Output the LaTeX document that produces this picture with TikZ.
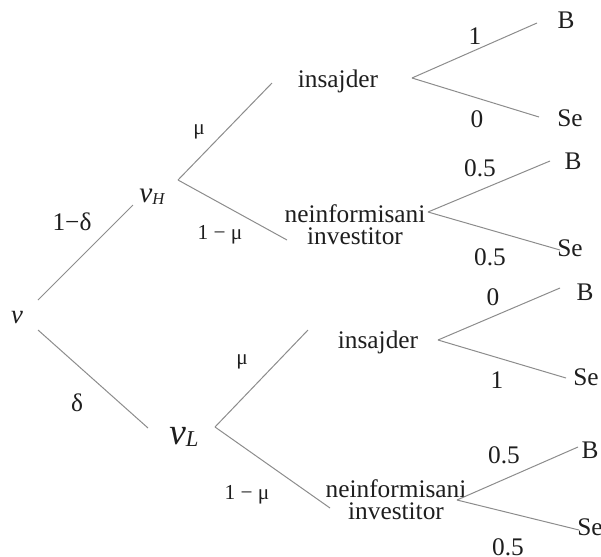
\documentclass[tikz,border=0pt]{standalone}
\usepackage{fontspec}
\setmainfont{Liberation Serif}
\definecolor{cBranch}{HTML}{8C8C8C}
\definecolor{cText}{HTML}{1E1E1E}
\newcommand{\vsub}[3]{{\itshape\fontsize{#1}{#1}\selectfont v\raisebox{-1.5pt}{\fontsize{#2}{#2}\selectfont #3}}}

\begin{document}
\begin{tikzpicture}[x=0.75pt,y=-0.75pt,
  lab/.style={inner sep=0pt,text=cText,align=center,
    font=\fontsize{19}{16.5}\selectfont},
  prob/.style={lab,font=\fontsize{16}{18}\selectfont},
  br/.style={draw=cBranch,line width=0.75pt}]

  \useasboundingbox (0,0) rectangle (601,557);

  % value of the asset
  \node[lab] (v) at (17,318) {\itshape\fontsize{20}{20}\selectfont v};
  \node[lab] (vH) at (152,197) {\vsub{22}{12.5}{H}};
  \node[lab] (vL) at (184,437) {\vsub{28}{17}{L}};
  \node[lab] (pH) at (72,222) {1−δ};
  \node[lab] (pL) at (77,403) {δ};

  % type of trader
  \node[lab] (ins1) at (338,81) {insajder};
  \node[lab] (neu1) at (355,225) {neinformisani\\investitor};
  \node[lab] (ins2) at (378,342) {insajder};
  \node[lab] (neu2) at (396,500) {neinformisani\\investitor};
  \node[prob] (mu1) at (199,132) {μ};
  \node[prob] (nm1) at (220,235) {1 − μ};
  \node[prob] (mu2) at (242,362) {μ};
  \node[prob] (nm2) at (247,495) {1 − μ};

  % orders
  \node[lab] (B1) at (566,20) {B};
  \node[lab] (Se1) at (570,118) {Se};
  \node[lab] (B2) at (573,161) {B};
  \node[lab] (Se2) at (570,248) {Se};
  \node[lab] (B3) at (585,292) {B};
  \node[lab] (Se3) at (586,377) {Se};
  \node[lab] (B4) at (590,450) {B};
  \node[lab] (Se4) at (590,527) {Se};
  \node[lab] (q1) at (475,36) {1};
  \node[lab] (q2) at (477,119) {0};
  \node[lab] (q3) at (480,168) {0.5};
  \node[lab] (q4) at (490,257) {0.5};
  \node[lab] (q5) at (493,297) {0};
  \node[lab] (q6) at (497,380) {1};
  \node[lab] (q7) at (504,455) {0.5};
  \node[lab] (q8) at (508,547) {0.5};

  % branch ends
  \coordinate (v-up) at (38,300);
  \coordinate (v-dn) at (38,330);
  \coordinate (vH-in) at (133,205);
  \coordinate (vH-out) at (178,180);
  \coordinate (vL-in) at (148,428);
  \coordinate (vL-out) at (215,427);
  \coordinate (ins1-in) at (272,83);
  \coordinate (ins1-out) at (412,78);
  \coordinate (neu1-in) at (287,240);
  \coordinate (neu1-out) at (428,212);
  \coordinate (ins2-in) at (308,330);
  \coordinate (ins2-out) at (438,340);
  \coordinate (neu2-in) at (330,508);
  \coordinate (neu2-out) at (457,500);
  \coordinate (B1-in) at (537,23);
  \coordinate (Se1-in) at (539,117);
  \coordinate (B2-in) at (550,161);
  \coordinate (Se2-in) at (560,250);
  \coordinate (B3-in) at (560,288);
  \coordinate (Se3-in) at (566,378);
  \coordinate (B4-in) at (578,447);
  \coordinate (Se4-in) at (579,530);

  \draw[br] (v-up) -- (vH-in);
  \draw[br] (v-dn) -- (vL-in);
  \draw[br] (vH-out) -- (ins1-in);
  \draw[br] (vH-out) -- (neu1-in);
  \draw[br] (vL-out) -- (ins2-in);
  \draw[br] (vL-out) -- (neu2-in);
  \foreach \a/\b in {ins1/B1,ins1/Se1,neu1/B2,neu1/Se2,ins2/B3,ins2/Se3,neu2/B4,neu2/Se4}
    \draw[br] (\a-out) -- (\b-in);
\end{tikzpicture}
\end{document}
